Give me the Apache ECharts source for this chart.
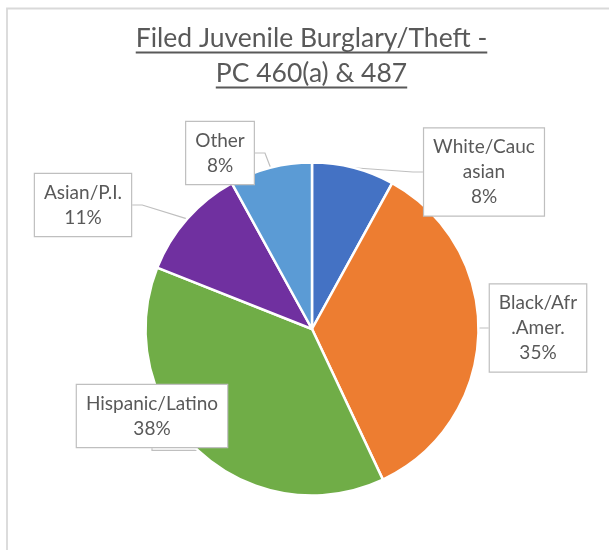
<!DOCTYPE html>
<html>
<head>
<meta charset="utf-8">
<script src="https://cdn.jsdelivr.net/npm/echarts@6/dist/echarts.min.js"></script>
<style>html,body{margin:0;padding:0;background:#fff;}#chart{width:609px;height:550px;}</style>
</head>
<body>
<div id="chart"></div>
<script>
const titleLines = ['Filed Juvenile Burglary/Theft -', 'PC 460(a) & 487'];
const categories = ['White/Caucasian', 'Black/Afr.Amer.', 'Hispanic/Latino', 'Asian/P.I.', 'Other'];
const labelTexts = ['White/Cauc\nasian', 'Black/Afr\n.Amer.', 'Hispanic/Latino', 'Asian/P.I.', 'Other'];
const values = [8, 35, 38, 11, 8];
const colors = ['#4472C4', '#ED7D31', '#70AD47', '#7030A0', '#5B9BD5'];

// layout settings (not data)
const FONT = 'Lato';
const TITLE_SIZE = 26.5;
const LABEL_SIZE = 19;
const titleX = 311.5;
const titleBaselines = [48, 83];
const labelCenters = [[484, 172], [538, 328], [152, 416], [83, 205], [220, 153]];

const ctx = document.createElement('canvas').getContext('2d');
ctx.font = TITLE_SIZE + 'px ' + FONT;

const graphics = [
  { type: 'rect', silent: true, shape: { x: 7, y: 8.5, width: 800, height: 800 },
    style: { fill: 'none', stroke: '#d9d9d9', lineWidth: 1.8 } }
];
titleLines.forEach((t, i) => {
  const w = ctx.measureText(t).width;
  graphics.push({ type: 'text', silent: true,
    style: { text: t, x: titleX, y: titleBaselines[i] - TITLE_SIZE * 0.36, align: 'center', verticalAlign: 'middle',
      fontFamily: FONT, fontSize: TITLE_SIZE, fill: '#595959' } });
  graphics.push({ type: 'line', silent: true,
    shape: { x1: titleX - w / 2, y1: titleBaselines[i] + 4.5, x2: titleX + w / 2, y2: titleBaselines[i] + 4.5 },
    style: { stroke: '#595959', lineWidth: 1.8 } });
});

const chart = echarts.init(document.getElementById('chart'), null, { renderer: 'canvas' });
chart.setOption({
  animation: false,
  backgroundColor: '#fff',
  graphic: graphics,
  series: [{
    type: 'pie',
    center: [312, 329],
    radius: 166.5,
    startAngle: 90,
    clockwise: true,
    avoidLabelOverlap: false,
    data: categories.map((c, i) => ({ name: c, value: values[i], itemStyle: { color: colors[i] } })),
    itemStyle: { borderColor: '#fff', borderWidth: 2.5 },
    label: {
      show: true,
      position: 'outside',
      formatter: p => labelTexts[p.dataIndex] + '\n' + p.percent + '%',
      fontFamily: FONT,
      fontSize: LABEL_SIZE,
      lineHeight: 25,
      color: '#595959',
      align: 'center',
      backgroundColor: '#fff',
      borderColor: '#bfbfbf',
      borderWidth: 1.2,
      padding: [6, 9]
    },
    labelLine: { show: true, length: 15, length2: 10, lineStyle: { color: '#bfbfbf', width: 1.2 } },
    labelLayout: p => ({ x: labelCenters[p.dataIndex][0], y: labelCenters[p.dataIndex][1], align: 'center', verticalAlign: 'middle' }),
    emphasis: { disabled: true }
  }]
});
</script>
</body>
</html>
